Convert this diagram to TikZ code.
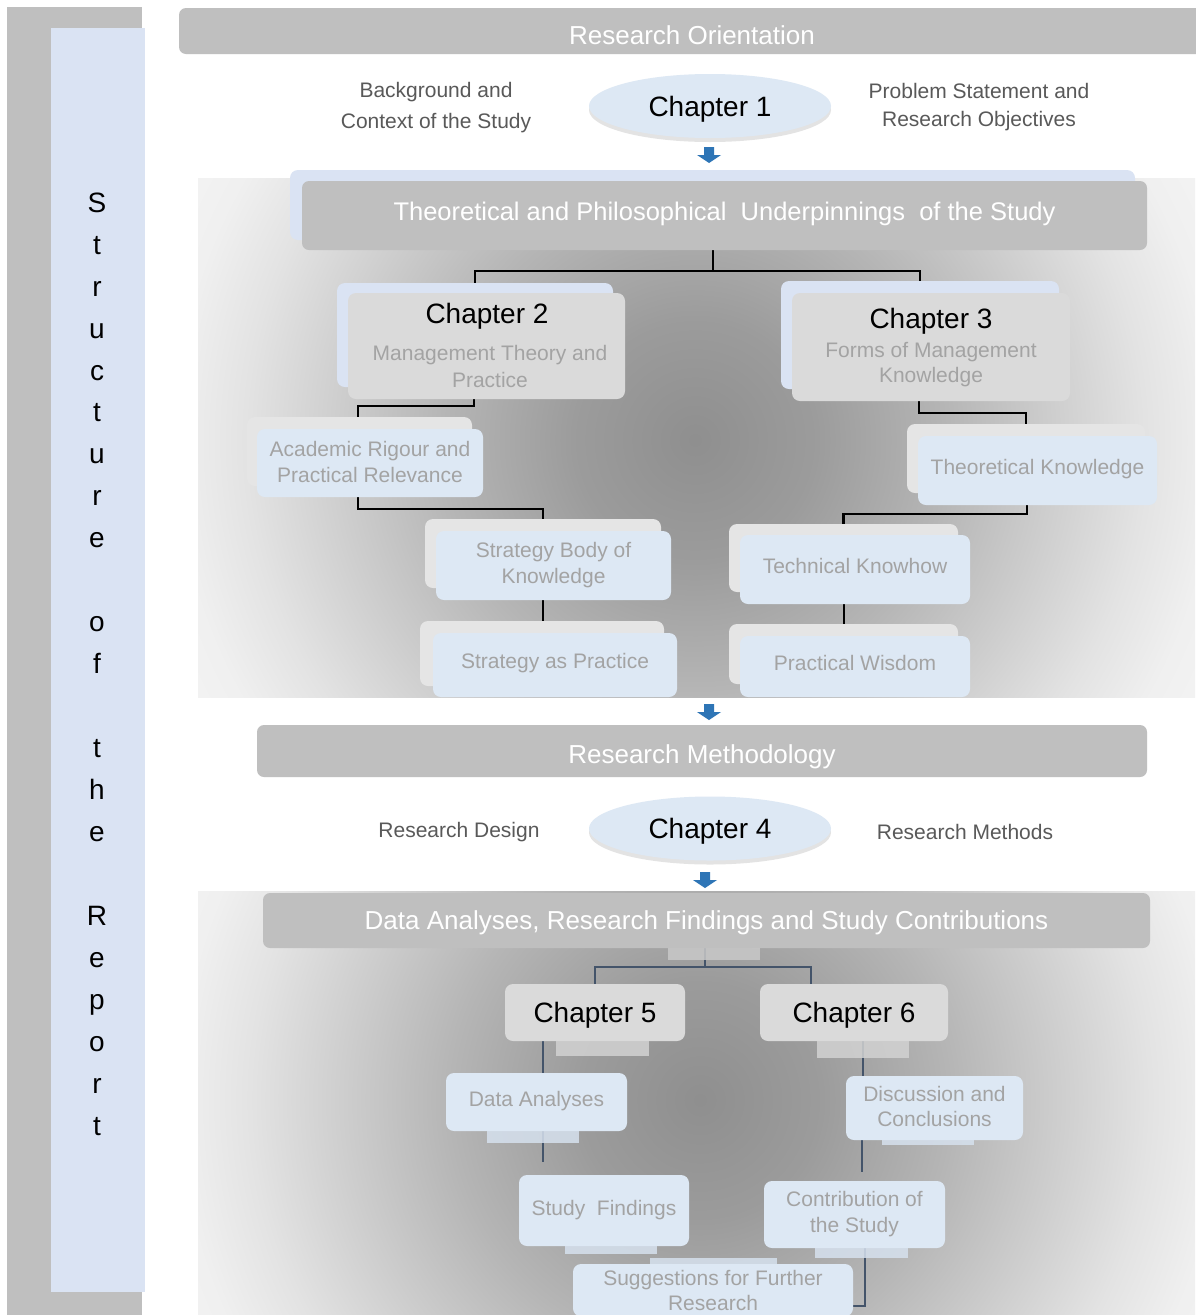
\documentclass[tikz,border=0pt]{standalone}
\usepackage{fontspec}
\setmainfont{Liberation Sans}
\usetikzlibrary{shapes.geometric,shadows}
\definecolor{bannergray}{HTML}{BFBFBF}
\definecolor{chapgray}{HTML}{DADADA}
\definecolor{backgray}{HTML}{E5E5E5}
\definecolor{leafblue}{HTML}{DDE8F4}
\definecolor{sideblue}{HTML}{DAE3F3}
\definecolor{backblue}{HTML}{DAE3F3}
\definecolor{outtext}{HTML}{595959}
\definecolor{intext}{HTML}{A3A3A3}
\definecolor{arrowblue}{HTML}{2E75B6}
\definecolor{slate}{HTML}{44546A}
\definecolor{tabgray}{HTML}{D2D2D2}
\definecolor{tabblue}{HTML}{D6E1EE}
\definecolor{tabbanner}{HTML}{C8C8C8}
\pgfdeclareradialshading{secshade}{\pgfpoint{0bp}{0bp}}{%
  color(0bp)=(black!44); color(5bp)=(black!39); color(10.4bp)=(black!29);
  color(14.6bp)=(black!20); color(18.75bp)=(black!11); color(21.7bp)=(black!6);
  color(25bp)=(black!4); color(50bp)=(black!4)}
\pgfdeclarelayer{back}
\pgfdeclarelayer{lines}
\pgfsetlayers{back,lines,main}
\newcommand\ftitle{\fontsize{28}{34}\selectfont}
\newcommand\fbanner{\fontsize{26}{30}\selectfont}
\newcommand\fleaf{\fontsize{21}{26}\selectfont}
\begin{document}
\begin{tikzpicture}[x=1pt,y=-1pt,
  every node/.style={inner sep=0pt, outer sep=0pt},
  banner/.style={fill=bannergray, rounded corners=7pt, text=white, font=\fbanner},
  backb/.style={fill=backblue, rounded corners=8pt},
  backg/.style={fill=backgray, rounded corners=8pt},
  chapbox/.style={fill=chapgray, rounded corners=8pt, font=\ftitle, text height=20pt, text depth=0pt},
  leaf/.style={fill=leafblue, rounded corners=8pt, text=intext, align=center, font=\fleaf},
  tabbox/.style={fill=#1, fill opacity=0.85},
  sidelabel/.style={text=outtext, align=center, font=\fleaf},
  innerlabel/.style={text=intext, align=center, font=\fleaf},
  chaptitle/.style={text=black, font=\ftitle, text height=20pt, text depth=0pt},
  chapell/.style={ellipse, fill=leafblue, minimum width=242pt, minimum height=64pt, font=\ftitle,
    text height=20pt, text depth=0pt,
    drop shadow={shadow xshift=0pt, shadow yshift=-4pt, opacity=0.22}},
  conn/.style={draw=black, line width=2.4pt},
  conntwo/.style={draw=slate, line width=2pt},
  downarr/.pic={\fill[arrowblue] (0,0) -- (-12,-8) -- (-5,-8) -- (-5,-16) -- (5,-16) -- (5,-8) -- (12,-8) -- cycle;}
]
\useasboundingbox (0,0) rectangle (1195,1315);
\begin{pgfonlayer}{back}
\fill[white] (0,0) rectangle (1195,1315);
\end{pgfonlayer}

% ---------- side bar ----------
\node[fill=bannergray, minimum width=135pt, minimum height=1308pt, anchor=north west] (sidegray) at (7,7) {};
\node[fill=sideblue, minimum width=94pt, minimum height=1264pt, anchor=north west] (side) at (51,28) {};
\node[font=\fontsize{28}{41.95}\selectfont, align=center] (sidetext) at (97,664)
  {S\\t\\r\\u\\c\\t\\u\\r\\e\\\mbox{}\\o\\f\\\mbox{}\\t\\h\\e\\\mbox{}\\R\\e\\p\\o\\r\\t};

% ---------- research orientation ----------
\node[banner, minimum width=1026pt, minimum height=46pt, text height=28pt, text depth=2pt] (ro) at (692,31) {Research Orientation};
\node[sidelabel, font=\fontsize{21}{31}\selectfont] (bgc) at (436,108) {Background and\\Context of the Study};
\node[sidelabel, font=\fontsize{21}{28}\selectfont] (psro) at (979,107) {Problem Statement and\\Research Objectives};
\node[chapell] (ch1) at (710,106) {Chapter 1};
\pic at (709,163) {downarr};

% ---------- section 2 ----------
\begin{pgfonlayer}{back}
\begin{scope}
\clip (198,178) rectangle (1195,697);
\shade[shading=secshade] (95,-160) rectangle (1295,1040);
\end{scope}
\end{pgfonlayer}
\node[backb, minimum width=845pt, minimum height=70pt] (thpb) at (712.5,205) {};
\node[banner, minimum width=845pt, minimum height=69pt, text height=19pt, text depth=10pt,
  font=\fontsize{25.5}{30}\selectfont] (thp) at (724.5,215.5)
  {Theoretical and Philosophical\ \ Underpinnings\ \ of the Study};

\node[backb, minimum width=276pt, minimum height=104pt] (ch2b) at (475,335) {};
\node[chapbox, minimum width=277pt, minimum height=106pt] (ch2) at (486.5,346) {};
\node[chaptitle] (ch2t) at (487,313) {Chapter 2};
\node[innerlabel, font=\fontsize{21}{27}\selectfont] (ch2s) at (490,366) {Management Theory and\\Practice};

\node[backb, minimum width=278pt, minimum height=108pt] (ch3b) at (920,335) {};
\node[chapbox, minimum width=278pt, minimum height=108pt] (ch3) at (931,347) {};
\node[chaptitle] (ch3t) at (931,318) {Chapter 3};
\node[innerlabel, font=\fontsize{21}{25}\selectfont] (ch3s) at (931,365) {Forms of Management\\Knowledge};

\node[backg, minimum width=225pt, minimum height=69pt] (acadb) at (359.5,451.5) {};
\node[leaf, minimum width=226pt, minimum height=68pt] (acad) at (370,463) {Academic Rigour and\\Practical Relevance\rule[-3pt]{0pt}{0pt}};
\node[backg, minimum width=236pt, minimum height=69pt] (sbkb) at (543,553.5) {};
\node[leaf, minimum width=235pt, minimum height=69pt] (sbk) at (553.5,565.5) {Strategy Body of\\Knowledge\rule[-3pt]{0pt}{0pt}};
\node[backg, minimum width=244pt, minimum height=65pt] (sapb) at (542,653.5) {};
\node[leaf, minimum width=244pt, minimum height=64pt, text depth=8pt] (sap) at (555,665) {Strategy as Practice};

\node[backg, minimum width=238pt, minimum height=69pt] (tkb) at (1026,458.5) {};
\node[leaf, minimum width=239pt, minimum height=69pt, text depth=7pt] (tk) at (1037.5,470.5) {Theoretical Knowledge};
\node[backg, minimum width=229pt, minimum height=68pt] (tchb) at (843.5,558) {};
\node[leaf, minimum width=230pt, minimum height=69pt, text depth=8pt] (tch) at (855,569.5) {Technical Knowhow};
\node[backg, minimum width=229pt, minimum height=60pt] (pwb) at (843.5,654) {};
\node[leaf, minimum width=230pt, minimum height=61pt, text depth=8pt] (pw) at (855,666.5) {Practical Wisdom};

\begin{pgfonlayer}{lines}
\draw[conn] (ch2b.north) -- ++(0,-12) -| ([xshift=-11.5pt]thp.south);
\draw[conn] (ch3b.north) -- ++(0,-10) -| ([xshift=-11.5pt]thp.south);
\draw[conn] ([xshift=-12.5pt]ch2.south) -- ++(0,7) -| ([xshift=-1.5pt]acadb.north);
\draw[conn] ([xshift=-12pt]acad.south) -- ++(0,12) -| (sbkb.north);
\draw[conn] ([xshift=-10.5pt]sbk.south) -- ([xshift=-10.5pt]sbk.south |- sapb.north);
\draw[conn] ([xshift=-12pt]ch3.south) -- ++(0,12) -| (tkb.north);
\draw[conn] ([xshift=-10.5pt]tk.south) -- ++(0,9) -| (tchb.north);
\draw[conn] ([xshift=-11pt]tch.south) -- ([xshift=-11pt]tch.south |- pwb.north);
\end{pgfonlayer}

\pic at (709,720) {downarr};

% ---------- research methodology ----------
\node[banner, minimum width=890pt, minimum height=52pt, text height=26pt, text depth=2pt] (rm) at (702,751) {Research Methodology};
\node[chapell] (ch4) at (710,828.5) {Chapter 4};
\node[sidelabel] (rdes) at (459,832) {Research Design};
\node[sidelabel] (rmeth) at (965,832) {Research Methods};
\pic at (705,888) {downarr};

% ---------- section 3 ----------
\begin{pgfonlayer}{back}
\begin{scope}
\clip (198,891) rectangle (1195,1315);
\shade[shading=secshade] (100,500) rectangle (1300,1700);
\end{scope}
\end{pgfonlayer}
\node[banner, minimum width=887pt, minimum height=55pt, text height=21pt, text depth=4pt] (dab) at (706.5,920.5)
  {Data Analyses, Research Findings and Study Contributions};
\node[tabbox=tabbanner, minimum width=92pt, minimum height=12pt] (dabtab) at (714,954) {};

\node[chapbox, minimum width=180pt, minimum height=57pt] (ch5) at (595,1012.5) {Chapter 5};
\node[tabbox=tabgray, minimum width=93pt, minimum height=15pt] (ch5tab) at (602.5,1048.5) {};
\node[chapbox, minimum width=188pt, minimum height=57pt] (ch6) at (854,1012.5) {Chapter 6};
\node[tabbox=tabgray, minimum width=92pt, minimum height=17pt] (ch6tab) at (863,1049.5) {};

\node[leaf, minimum width=181pt, minimum height=58pt, text depth=6pt] (da) at (536.5,1102) {Data Analyses};
\node[tabbox=tabblue, minimum width=92pt, minimum height=12pt] (datab) at (533,1137) {};
\node[leaf, minimum width=170pt, minimum height=71pt] (sf) at (604,1210.5) {Study~ Findings};
\node[tabbox=tabblue, minimum width=92pt, minimum height=8pt] (sftab) at (611,1250) {};
\node[tabbox=tabblue, minimum width=127pt, minimum height=6pt] (sfrtab) at (713.5,1261) {};
\node[leaf, minimum width=280pt, inner ysep=6pt, anchor=north, font=\fontsize{21}{25}\selectfont] (sfr) at (713,1264)
  {Suggestions for Further\\Research};

\node[leaf, minimum width=177pt, minimum height=64pt, font=\fontsize{21}{25}\selectfont] (dc) at (934.5,1108) {Discussion and\\Conclusions\rule[-3pt]{0pt}{0pt}};
\node[tabbox=tabblue, minimum width=92pt, minimum height=5pt] (dctab) at (928,1142.5) {};
\node[leaf, minimum width=181pt, minimum height=67pt] (cs) at (854.5,1214.5) {Contribution of\\the Study};
\node[tabbox=tabblue, minimum width=93pt, minimum height=10pt] (cstab) at (861.5,1253) {};

\begin{pgfonlayer}{lines}
\draw[conntwo] (ch5.north) -- ++(0,-17) -| ([xshift=-1.5pt]dab.south);
\draw[conntwo] ([xshift=-43pt]ch6.north) -- ++(0,-17) -| ([xshift=-1.5pt]dab.south);
\draw[conntwo] ([xshift=-52pt]ch5.south) -- ([xshift=-52pt]ch5.south |- da.north);
\draw[conntwo] ([xshift=6.5pt]da.south) -- ++(0,31);
\draw[conntwo] ([xshift=9pt]ch6.south) -- ([xshift=9pt]ch6.south |- dc.north);
\draw[conntwo] ([xshift=-72.5pt]dc.south) -- ++(0,32);
\draw[conntwo] ([xshift=10.5pt]cs.south) |- ([yshift=-16pt]sfr.east);
\end{pgfonlayer}
\end{tikzpicture}
\end{document}
